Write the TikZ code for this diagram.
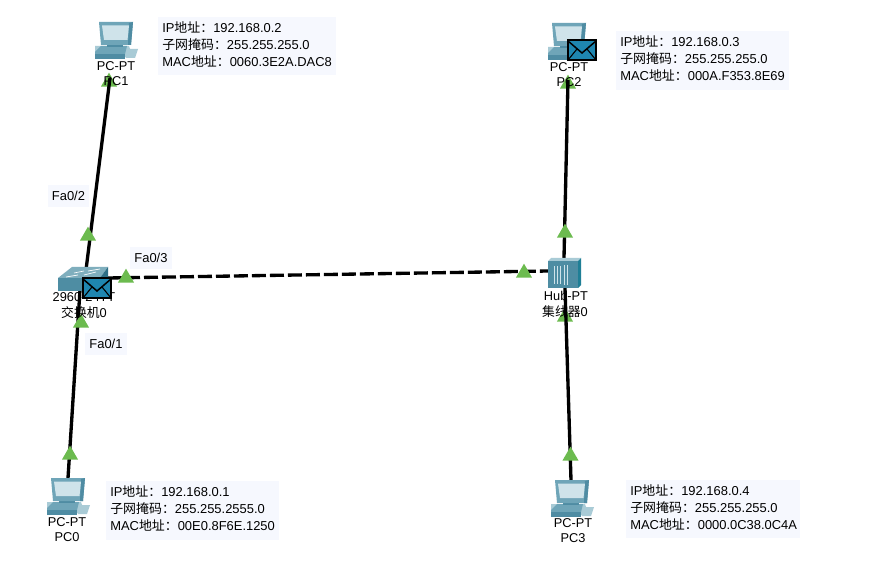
\documentclass[tikz,border=0pt]{standalone}
\usepackage{fontspec}
\setmainfont{Liberation Sans}
\newfontfamily\cjk{Noto Sans CJK SC}
\usetikzlibrary{shapes.geometric}
\definecolor{boxbg}{HTML}{F6F8FE}
\definecolor{tri}{HTML}{6CBB4F}
\definecolor{pcdark}{HTML}{4F8CA3}
\definecolor{pcmid}{HTML}{6FA5B8}
\definecolor{pcscreen}{HTML}{CFE3EA}
\definecolor{pclight}{HTML}{A9CBD6}
\definecolor{swtop}{HTML}{7FAEBD}
\definecolor{swfront}{HTML}{4E8DA3}
\definecolor{swside}{HTML}{2F6F86}
\definecolor{hubside}{HTML}{1F7F96}
\definecolor{mail}{HTML}{1F86B0}
\tikzset{
  x=0.75pt,y=-0.75pt,
  link/.style={line width=2.5pt,black},
  dashlink/.style={line width=2.5pt,black,dash pattern=on 10.5pt off 3pt},
  porttri/.style={regular polygon,regular polygon sides=3,fill=tri,draw=none,inner sep=0pt,minimum size=14pt},
  lab/.style={font=\fontsize{9.6}{10}\selectfont,inner sep=0pt,text=black},
  infobox/.style={font=\fontsize{9.7}{12.75}\selectfont,fill=boxbg,align=left,anchor=north west,inner sep=0pt,text=black},
  portbox/.style={font=\fontsize{9.7}{10}\selectfont,fill=boxbg,inner sep=0pt,text=black,minimum height=16.5pt},
  pics/pcicon/.style={code={
    \fill[pclight] (-4,24) -- (30,24) -- (34,35) -- (-4,37) -- cycle;
    \fill[pcmid] (-4,30) -- (2,24) -- (28,24) -- (26,32) -- (-4,32) -- cycle;
    \fill[pcdark] (-4,32) -- (26,32) -- (26,37) -- (-4,37) -- cycle;
    \fill[pclight] (29,27) -- (39,27) -- (36,36) -- (27,36) -- cycle;
    \fill[pcdark] (8,20) rectangle (24,25);
    \fill[pcmid] (0,0) -- (34,0) -- (32,23) -- (2,23) -- cycle;
    \fill[pcdark] (30,1) -- (34,0) -- (32,23) -- (29,23) -- cycle;
    \fill[pcscreen] (3,3.5) -- (30,3.5) -- (28.5,18) -- (5,18) -- cycle;
  }},
  pics/mailicon/.style={code={
    \fill[mail,draw=black,line width=1.1pt] (0,0) rectangle (28,20);
    \draw[black,line width=1.1pt] (0,1) -- (14,13) -- (28,1);
    \draw[black,line width=0.8pt] (0,20) -- (9,9) (28,20) -- (19,9);
  }},
}
\newcommand{\infotext}[3]{IP{\cjk 地址：}#1\\{\cjk 子网掩码：}#2\\MAC{\cjk 地址：}#3}
\begin{document}
\begin{tikzpicture}
\useasboundingbox (0,0) rectangle (876,574);
\fill[white] (0,0) rectangle (876,574);
% ports
\coordinate (pc1port) at (110,78);
\coordinate (swup) at (85,278);
\coordinate (swdown) at (80,290);
\coordinate (pc0port) at (68,478);
\coordinate (swright) at (108,278);
\coordinate (hubleft) at (548,271);
\coordinate (pc2port) at (568,80);
\coordinate (hubup) at (564,258);
\coordinate (hubdown) at (565,288);
\coordinate (pc3port) at (571,480);
% info boxes
\node[infobox,minimum width=133.5pt,minimum height=43.5pt] (info1box) at (158,17) {};
\node[infobox] (info1) at (162,21) {\infotext{192.168.0.2}{255.255.255.0}{0060.3E2A.DAC8}};
\node[infobox,minimum width=129.75pt,minimum height=44.25pt] (info2box) at (616,31) {};
\node[infobox] (info2) at (620,35) {\infotext{192.168.0.3}{255.255.255.0}{000A.F353.8E69}};
\node[infobox,minimum width=129.75pt,minimum height=44.25pt] (info0box) at (106,481) {};
\node[infobox] (info0) at (110,485) {\infotext{192.168.0.1}{255.255.2555.0}{00E0.8F6E.1250}};
\node[infobox,minimum width=130.5pt,minimum height=43.5pt] (info3box) at (626,480) {};
\node[infobox] (info3) at (630,484) {\infotext{192.168.0.4}{255.255.255.0}{0000.0C38.0C4A}};
\node[portbox,minimum width=31pt] (fa2) at (68.5,196) {Fa0/2};
\node[portbox,minimum width=31pt] (fa3) at (151,258) {Fa0/3};
\node[portbox,minimum width=31pt] (fa1) at (106,344) {Fa0/1};
% triangles under the labels at the PCs
\node[porttri] (t1) at (109,82) {};
\node[porttri] (t7) at (568,84) {};
\node[porttri] (t9) at (565,317) {};
% links
\draw[link] (pc1port) -- (swup);
\draw[link] (swdown) -- (pc0port);
\draw[dashlink] (swright) -- (hubleft);
\draw[link] (pc2port) -- (hubup);
\draw[link] (hubdown) -- (pc3port);
\node[porttri] (t2) at (88,236) {};
\node[porttri] (t4) at (70,455) {};
\node[porttri] (t5) at (126,278) {};
\node[porttri] (t6) at (524,273) {};
\node[porttri] (t8) at (565,233) {};
\node[porttri] (t10) at (570.5,456) {};
\node[porttri] (t3) at (81,323) {};
% PCs
\pic at (99,22) {pcicon};
\pic at (51,478) {pcicon};
\pic at (552,23) {pcicon};
\pic at (555,480) {pcicon};
% switch
\fill[swtop] (58,278) -- (72,267) -- (108,267) -- (100,278) -- cycle;
\fill[swfront] (58,278) rectangle (100,291);
\fill[swside] (100,278) -- (108,267) -- (108,280) -- (100,291) -- cycle;
\draw[white,line width=0.5pt] (74,273) -- (84,271) (88,271) -- (100,269) (66,277) -- (78,275) (84,275) -- (96,272);
% hub
\fill[swfront] (548,261) rectangle (578,288);
\fill[pclight] (548,261) -- (551,258) -- (581,258) -- (578,261) -- cycle;
\fill[hubside] (578,261) -- (581,258) -- (581,285) -- (578,288) -- cycle;
\draw[pcscreen,line width=0.5pt] (554,266) -- (554,284) (557,266) -- (557,284) (560,266) -- (560,284) (564,265) -- (564,285) (567,265) -- (567,285);
% device labels
\node[lab] (pc1a) at (116,66) {PC-PT};
\node[lab] (pc1b) at (116,81) {PC1};
\node[lab] (pc2a) at (569,67) {PC-PT};
\node[lab] (pc2b) at (569,82) {PC2};
\node[lab] (pc0a) at (67,522) {PC-PT};
\node[lab] (pc0b) at (67,537) {PC0};
\node[lab] (pc3a) at (573,523) {PC-PT};
\node[lab] (pc3b) at (573,538) {PC3};
\node[lab] (swa) at (84,297) {2960-24TT};
\node[lab] (swb) at (84,313) {{\cjk 交换机}0};
\node[lab] (huba) at (566,296) {Hub-PT};
\node[lab] (hubb) at (565,312) {{\cjk 集线器}0};
% envelopes
\pic at (83,278) {mailicon};
\pic at (568,40) {mailicon};
\end{tikzpicture}
\end{document}
